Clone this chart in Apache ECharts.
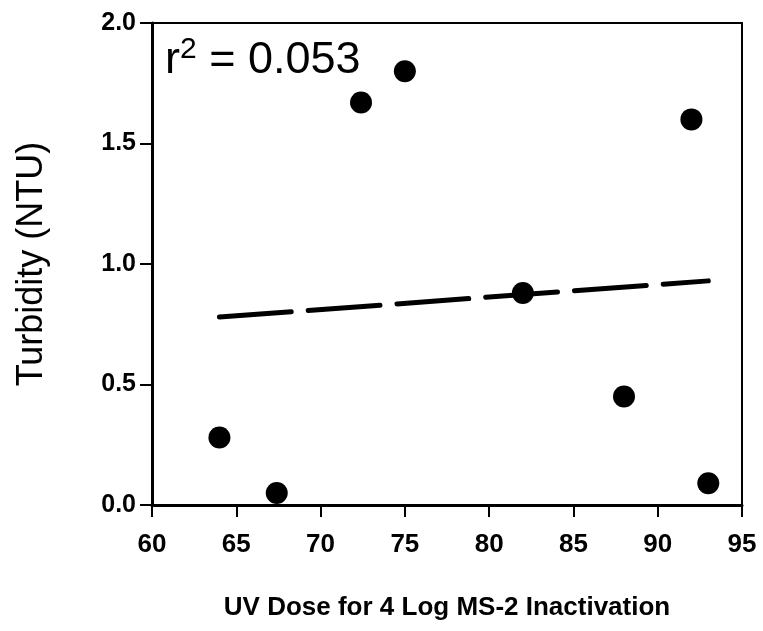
<!DOCTYPE html>
<html>
<head>
<meta charset="utf-8">
<script src="https://cdn.jsdelivr.net/npm/echarts@6/dist/echarts.min.js"></script>
<style>
  html, body { margin: 0; padding: 0; background: #fff; }
  #chart { width: 763px; height: 631px; }
</style>
</head>
<body>
<div id="chart"></div>
<script>
// UV dose vs turbidity
var uvDose = [64, 67.4, 72.4, 75, 82, 88, 92, 93];
var turbidity = [0.28, 0.05, 1.67, 1.80, 0.88, 0.45, 1.60, 0.09];
// regression line ends
var fitX = [64, 93];
var fitY = [0.78, 0.93];
var xTicks = [60, 65, 70, 75, 80, 85, 90, 95];
var yTicks = [0.0, 0.5, 1.0, 1.5, 2.0];
var rSquared = '0.053';

var font = 'Liberation Sans, Arial, sans-serif';

var points = uvDose.map(function (x, i) { return [x, turbidity[i]]; });
var fitLine = fitX.map(function (x, i) { return [x, fitY[i]]; });

var chart = echarts.init(document.getElementById('chart'), null, { renderer: 'canvas' });

var option = {
  backgroundColor: '#fff',
  animation: false,
  title: {
    text: 'r{sup|2} = ' + rSquared,
    left: 160,
    top: 30,
    textStyle: {
      fontFamily: font,
      fontSize: 45,
      fontWeight: 'normal',
      color: '#000',
      rich: {
        sup: { fontFamily: font, fontSize: 30, verticalAlign: 'top', padding: [0, 0, 22, 0], color: '#000' }
      }
    }
  },
  grid: {
    left: 152,
    right: 21,
    top: 23,
    bottom: 126,
    show: true,
    borderColor: '#000',
    borderWidth: 2,
    containLabel: false
  },
  xAxis: {
    type: 'value',
    min: 60,
    max: 95,
    interval: 5,
    name: 'UV Dose for 4 Log MS-2 Inactivation',
    nameLocation: 'middle',
    nameGap: 90,
    nameTextStyle: { fontFamily: font, fontSize: 26, fontWeight: 'bold', color: '#000' },
    axisLine: { lineStyle: { color: '#000', width: 3 } },
    axisTick: { show: true, inside: false, length: 12, lineStyle: { color: '#000', width: 2 } },
    axisLabel: {
      fontFamily: font, fontSize: 26, fontWeight: 'bold', color: '#000', margin: 27,
      formatter: function (v) { return xTicks.indexOf(v) >= 0 ? String(v) : ''; }
    },
    splitLine: { show: false }
  },
  yAxis: {
    type: 'value',
    min: 0,
    max: 2,
    interval: 0.5,
    name: 'Turbidity (NTU)',
    nameLocation: 'middle',
    nameGap: 102,
    nameRotate: 90,
    nameTextStyle: { fontFamily: font, fontSize: 36, color: '#000' },
    axisLine: { lineStyle: { color: '#000', width: 3 } },
    axisTick: { show: true, inside: false, length: 12, lineStyle: { color: '#000', width: 2 } },
    axisLabel: {
      fontFamily: font, fontSize: 25, fontWeight: 'bold', color: '#000', margin: 16,
      formatter: function (v) { return yTicks.indexOf(v) >= 0 ? v.toFixed(1) : ''; }
    },
    splitLine: { show: false }
  },
  series: [
    {
      name: 'fit',
      type: 'line',
      data: fitLine,
      symbol: 'none',
      lineStyle: { color: '#000', width: 5, type: [72, 17], cap: 'round' },
      z: 2
    },
    {
      name: 'data',
      type: 'scatter',
      data: points,
      symbol: 'circle',
      symbolSize: 22,
      itemStyle: { color: '#000', opacity: 1 },
      z: 3
    }
  ]
};

chart.setOption(option);
</script>
</body>
</html>
